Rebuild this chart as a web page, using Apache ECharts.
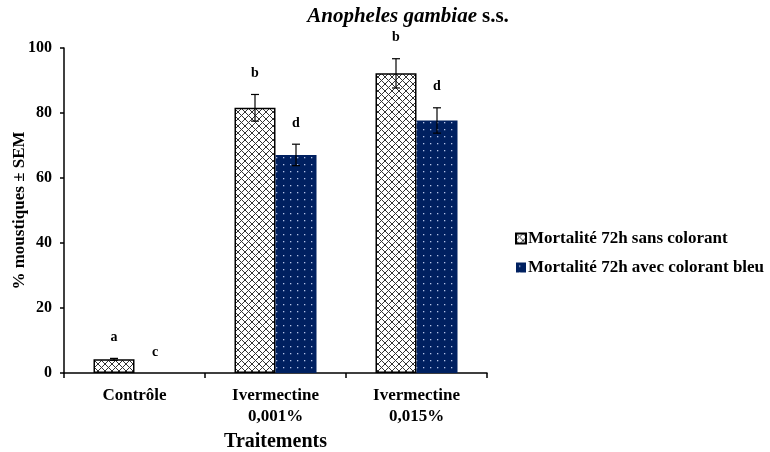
<!DOCTYPE html>
<html><head><meta charset="utf-8">
<script src="https://cdn.jsdelivr.net/npm/echarts@6/dist/echarts.min.js"></script>
<style>html,body{margin:0;padding:0;background:#fff}#c{width:770px;height:452px}</style>
</head><body><div id="c"></div>
<script>
var categories = ['Contrôle', 'Ivermectine\n0,001%', 'Ivermectine\n0,015%'];
var seriesNames = ['Mortalité 72h sans colorant', 'Mortalité 72h avec colorant bleu'];
var sansValues = [4.2, 81.6, 92.2];
var sansErr = [0.3, 4.1, 4.5];
var sansLetters = ['a', 'b', 'b'];
var bleuValues = [0, 67.1, 77.7];
var bleuErr = [0, 3.3, 3.9];
var bleuLetters = ['c', 'd', 'd'];
var yTicks = [0, 20, 40, 60, 80, 100];

var FONT = '"Liberation Serif", "Times New Roman", serif';
var BAR_W = 41;

function crossPattern() {
  var c = document.createElement('canvas');
  c.width = 7; c.height = 7;
  var g = c.getContext('2d');
  g.fillStyle = '#fff'; g.fillRect(0, 0, 7, 7);
  g.strokeStyle = '#333'; g.lineWidth = 1;
  g.beginPath();
  g.moveTo(0, 0); g.lineTo(7, 7);
  g.moveTo(7, 0); g.lineTo(0, 7);
  g.stroke();
  return c;
}
function dotPattern() {
  var c = document.createElement('canvas');
  c.width = 7; c.height = 7;
  var g = c.getContext('2d');
  g.fillStyle = '#002060'; g.fillRect(0, 0, 7, 7);
  g.fillStyle = '#b4c2e6';
  g.fillRect(3, 3, 1.3, 1.3);
  return c;
}
var crossFill = { image: crossPattern(), repeat: 'repeat' };
var dotFill = { image: dotPattern(), repeat: 'repeat' };

function errData(vals, errs) {
  return vals.map(function (v, i) { return [i, v, errs[i]]; });
}
function errRender(offset, letters) {
  return function (params, api) {
    var i = api.value(0), v = api.value(1), e = api.value(2);
    var letter = letters[params.dataIndex];
    var base = api.coord([i, v]);
    var x = base[0] + offset;
    var top = api.coord([i, v + e])[1];
    var bot = api.coord([i, Math.max(0, v - e)])[1];
    var children = [];
    var style = { stroke: '#000', lineWidth: 1.2 };
    if (e > 0) {
      children.push({ type: 'line', shape: { x1: x, y1: top, x2: x, y2: bot }, style: style });
      children.push({ type: 'line', shape: { x1: x - 4, y1: top, x2: x + 4, y2: top }, style: style });
      children.push({ type: 'line', shape: { x1: x - 4, y1: bot, x2: x + 4, y2: bot }, style: style });
    }
    children.push({ type: 'text', x: x, y: top - 21, style: { text: letter, align: 'center', verticalAlign: 'middle', font: 'bold 14px ' + FONT, fill: '#000' } });
    return { type: 'group', children: children };
  };
}

var chart = echarts.init(document.getElementById('c'));
chart.setOption({
  animation: false,
  backgroundColor: '#fff',
  title: {
    text: '{i|Anopheles gambiae} {n|s.s.}',
    left: 403, top: 1, textAlign: 'center',
    textStyle: { rich: {
      i: { fontFamily: FONT, fontSize: 21, fontWeight: 'bold', fontStyle: 'italic', color: '#000' },
      n: { fontFamily: FONT, fontSize: 21, fontWeight: 'bold', color: '#000' }
    } }
  },
  legend: {
    orient: 'vertical', left: 510, top: 225,
    itemWidth: 10, itemHeight: 10, itemGap: 12,
    icon: 'rect',
    data: seriesNames,
    textStyle: { fontFamily: FONT, fontSize: 17, fontWeight: 'bold', color: '#000', padding: [0, 0, 0, -3] }
  },
  grid: { left: 64, right: 283, top: 48, bottom: 79, containLabel: false, outerBoundsMode: 'none' },
  xAxis: {
    type: 'category', data: categories,
    name: 'Traitements', nameLocation: 'middle', nameGap: 56,
    nameTextStyle: { fontFamily: FONT, fontSize: 20, fontWeight: 'bold', color: '#000' },
    axisLine: { lineStyle: { color: '#000', width: 1.5 } },
    axisTick: { show: true, length: 5, lineStyle: { color: '#000', width: 1.5 } },
    axisLabel: { fontFamily: FONT, fontSize: 17, fontWeight: 'bold', color: '#000', margin: 12, lineHeight: 21 }
  },
  yAxis: {
    type: 'value', min: 0, max: 100, interval: 20,
    name: '% moustiques ± SEM', nameLocation: 'middle', nameGap: 36, nameMoveOverlap: false,
    nameTextStyle: { fontFamily: FONT, fontSize: 17, fontWeight: 'bold', color: '#000' },
    axisLine: { show: true, lineStyle: { color: '#000', width: 1.5 } },
    axisTick: { show: true, length: 4, lineStyle: { color: '#000', width: 1.5 } },
    splitLine: { show: false },
    axisLabel: { fontFamily: FONT, fontSize: 16, fontWeight: 'bold', color: '#000', margin: 12,
      formatter: function (v) { return yTicks.indexOf(v) >= 0 ? String(v) : ''; } }
  },
  series: [
    { name: seriesNames[0], type: 'bar', data: sansValues, barWidth: BAR_W, barGap: '0%',
      itemStyle: { color: crossFill, borderColor: '#000', borderWidth: 1.5 } },
    { name: seriesNames[1], type: 'bar', data: bleuValues, barWidth: BAR_W, barGap: '0%',
      itemStyle: { color: dotFill, borderColor: '#002060', borderWidth: 0 } },
    { type: 'custom', data: errData(sansValues, sansErr), renderItem: errRender(-BAR_W / 2, sansLetters), clip: false, z: 5, silent: true },
    { type: 'custom', data: errData(bleuValues, bleuErr), renderItem: errRender(BAR_W / 2, bleuLetters), clip: false, z: 5, silent: true }
  ]
});
</script></body></html>
